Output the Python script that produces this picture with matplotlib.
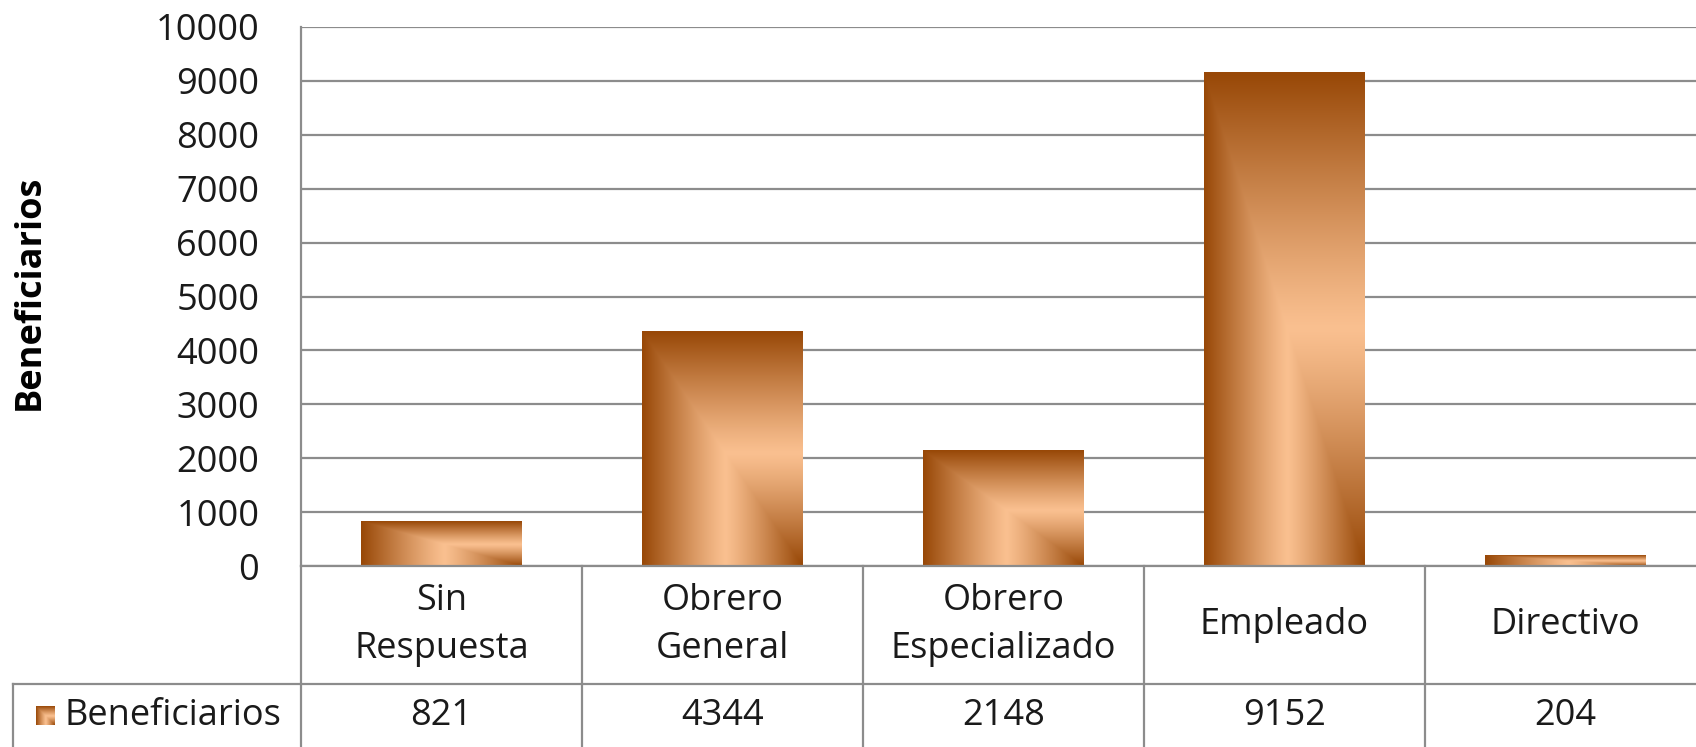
import numpy as np
import matplotlib.pyplot as plt
from matplotlib.transforms import blended_transform_factory
from matplotlib.lines import Line2D

plt.rcParams['font.family'] = ['Open Sans', 'DejaVu Sans']

categories = ['Sin\nRespuesta', 'Obrero\nGeneral', 'Obrero\nEspecializado', 'Empleado', 'Directivo']
beneficiarios = [821, 4344, 2148, 9152, 204]
series_name = 'Beneficiarios'
y_ticks = [0, 1000, 2000, 3000, 4000, 5000, 6000, 7000, 8000, 9000, 10000]

W, H = 1696, 747
dark = np.array([152, 72, 7]) / 255
light = np.array([250, 192, 144]) / 255
grid_col = '#8c8c8c'
txt_col = '#1a1a1a'


def gradient(nx=120, ny=120):
    # rectangular path gradient from the bottom-right corner: dark - light - dark
    u = np.linspace(0, 1, nx)
    v = np.linspace(1, 0, ny)  # rows top to bottom, v = height from bottom
    U, V = np.meshgrid(u, v)
    t = np.maximum(1 - U, V)
    c = 0.48
    d = np.where(t < c, (c - t) / c, (t - c) / (1 - c))
    d = np.clip(d, 0, 1) ** 1.15
    return light[None, None, :] * (1 - d[..., None]) + dark[None, None, :] * d[..., None]


fig = plt.figure(figsize=(W / 100, H / 100), dpi=100)


def fx(px):
    return px / W


def fy(py):
    return 1 - py / H


x0, y_top, y_zero, y_row, col_w = 301, 27, 566, 684, 281
ax = fig.add_axes([fx(x0), fy(y_zero), fx(5 * col_w), fy(y_top) - fy(y_zero)])
ax.set_yticks(y_ticks)
ax.set_xticks([])
ax.tick_params(axis='y', length=0, pad=30, labelsize=26, labelcolor=txt_col)
ax.yaxis.grid(True, color=grid_col, linewidth=1.6)
ax.set_axisbelow(True)
for sp in ['top', 'right', 'bottom']:
    ax.spines[sp].set_visible(False)
ax.spines['left'].set_color(grid_col)
ax.spines['left'].set_linewidth(1.6)

bar_w = 0.57
for i, v in enumerate(beneficiarios):
    xl = i + 0.5 - bar_w / 2
    ax.imshow(gradient(), extent=[xl, xl + bar_w, 0, v], aspect='auto', zorder=2,
              interpolation='bilinear')
ax.set_xlim(0, 5)
ax.set_ylim(0, 10000)

fig.text(fx(30), fy(292), series_name, rotation=90, ha='center', va='center',
         fontsize=26, fontweight='bold', color='black')

# data table below
tr = blended_transform_factory(ax.transData, fig.transFigure)
lw = 1.6
fig.add_artist(Line2D([0, 5], [fy(y_zero)] * 2, transform=tr, color=grid_col, lw=lw))
fig.add_artist(Line2D([fx(13), 1.0], [fy(y_row)] * 2, transform=fig.transFigure, color=grid_col, lw=lw))
fig.add_artist(Line2D([fx(13), fx(13)], [fy(y_row), 0], transform=fig.transFigure, color=grid_col, lw=lw))
for i in range(6):
    fig.add_artist(Line2D([i, i], [fy(y_zero), 0], transform=tr, color=grid_col, lw=lw))

for i, (cat, v) in enumerate(zip(categories, beneficiarios)):
    fig.text(i + 0.5, fy((y_zero + y_row) / 2), cat, transform=tr, ha='center', va='center',
             fontsize=26, color=txt_col, linespacing=1.45)
    fig.text(i + 0.5, fy(716), str(v), transform=tr, ha='center', va='center',
             fontsize=26, color=txt_col)

key = fig.add_axes([fx(36), fy(725), fx(19), fy(706) - fy(725)])
key.imshow(gradient(), aspect='auto')
key.axis('off')
fig.text(fx(65), fy(716), series_name, ha='left', va='center', fontsize=26, color=txt_col)

fig.savefig('out.png', dpi=100)
